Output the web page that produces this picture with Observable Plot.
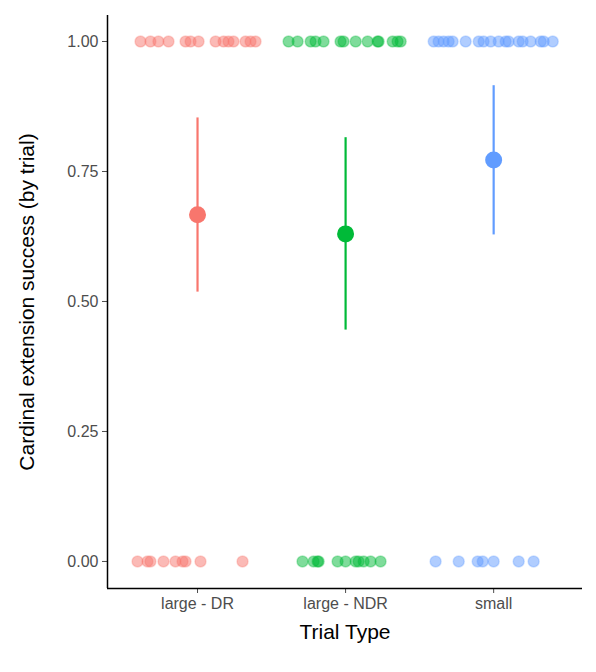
<!DOCTYPE html>
<html><head><meta charset="utf-8">
<script src="https://cdn.jsdelivr.net/npm/d3@7"></script>
<script src="https://cdn.jsdelivr.net/npm/@observablehq/plot@0.6"></script>
<style>body{margin:0;background:#fff}</style>
</head><body><div id="chart"></div>
<script>
const types = ["large - DR", "large - NDR", "small"];
const colors = ["#F8766D", "#00BA38", "#619CFF"];
// jittered offsets from category centre, for success = 1 and success = 0
const jitterOnes = [
  [-0.385,-0.318,-0.264,-0.196,-0.081,-0.047,0.007,0.122,0.176,0.209,0.243,0.324,0.358,0.392],
  [-0.385,-0.324,-0.236,-0.203,-0.149,-0.034,-0.014,0.068,0.149,0.216,0.223,0.318,0.351,0.372],
  [-0.405,-0.372,-0.338,-0.304,-0.277,-0.189,-0.101,-0.068,-0.02,0.034,0.081,0.101,0.169,0.196,0.25,0.318,0.338,0.399]
];
const jitterZeros = [
  [-0.405,-0.338,-0.318,-0.23,-0.149,-0.101,-0.081,0.02,0.304],
  [-0.291,-0.216,-0.189,-0.182,-0.054,0,0.068,0.088,0.122,0.169,0.236],
  [-0.392,-0.236,-0.108,-0.074,0,0.169,0.27]
];
const means = [0.667, 0.630, 0.772];
const lower = [0.518, 0.445, 0.628];
const upper = [0.853, 0.815, 0.915];

const trials = [];
types.forEach((t, i) => {
  jitterOnes[i].forEach(j => trials.push({x: i + 1 + j, y: 1, c: colors[i]}));
  jitterZeros[i].forEach(j => trials.push({x: i + 1 + j, y: 0, c: colors[i]}));
});
const summary = types.map((t, i) => ({x: i + 1, m: means[i], lo: lower[i], hi: upper[i], c: colors[i]}));

const chart = Plot.plot({
  width: 596, height: 672,
  marginLeft: 107, marginRight: 14, marginTop: 15, marginBottom: 84,
  style: {fontFamily: "Liberation Sans, Arial, sans-serif", fontSize: "16px", color: "#4d4d4d"},
  x: {domain: [0.392, 3.6], ticks: [1, 2, 3], tickFormat: d => types[d - 1], tickSize: 5, tickPadding: 4,
      label: "Trial Type", labelAnchor: "center", labelOffset: 50},
  y: {domain: [-0.052, 1.05], ticks: [0, 0.25, 0.5, 0.75, 1], tickFormat: d3.format(".2f"), tickSize: 5,
      label: "Cardinal extension success (by trial)", labelAnchor: "center", labelOffset: 88},
  marks: [
    Plot.dot(trials, {x: "x", y: "y", r: 5.5, fill: "c", fillOpacity: 0.5, stroke: "c", strokeOpacity: 0.3}),
    Plot.ruleX(summary, {x: "x", y1: "lo", y2: "hi", stroke: "c", strokeWidth: 2.2}),
    Plot.dot(summary, {x: "x", y: "m", r: 8.5, fill: "c"}),
    Plot.ruleX([0.392], {stroke: "black", strokeWidth: 1.5}),
    Plot.ruleY([-0.052], {stroke: "black", strokeWidth: 1.5})
  ]
});
chart.querySelectorAll("text").forEach(e => {
  const t = e.textContent;
  if (t.includes("Trial Type") || t.includes("Cardinal")) {
    e.textContent = t.replace(/[\u2191\u2192\u2190\u2193]/g, "").trim();
    e.setAttribute("font-size", "21");
    e.style.fontSize = "21px";
    e.setAttribute("fill", "#000");
  }
});
document.getElementById("chart").appendChild(chart);
</script></body></html>
